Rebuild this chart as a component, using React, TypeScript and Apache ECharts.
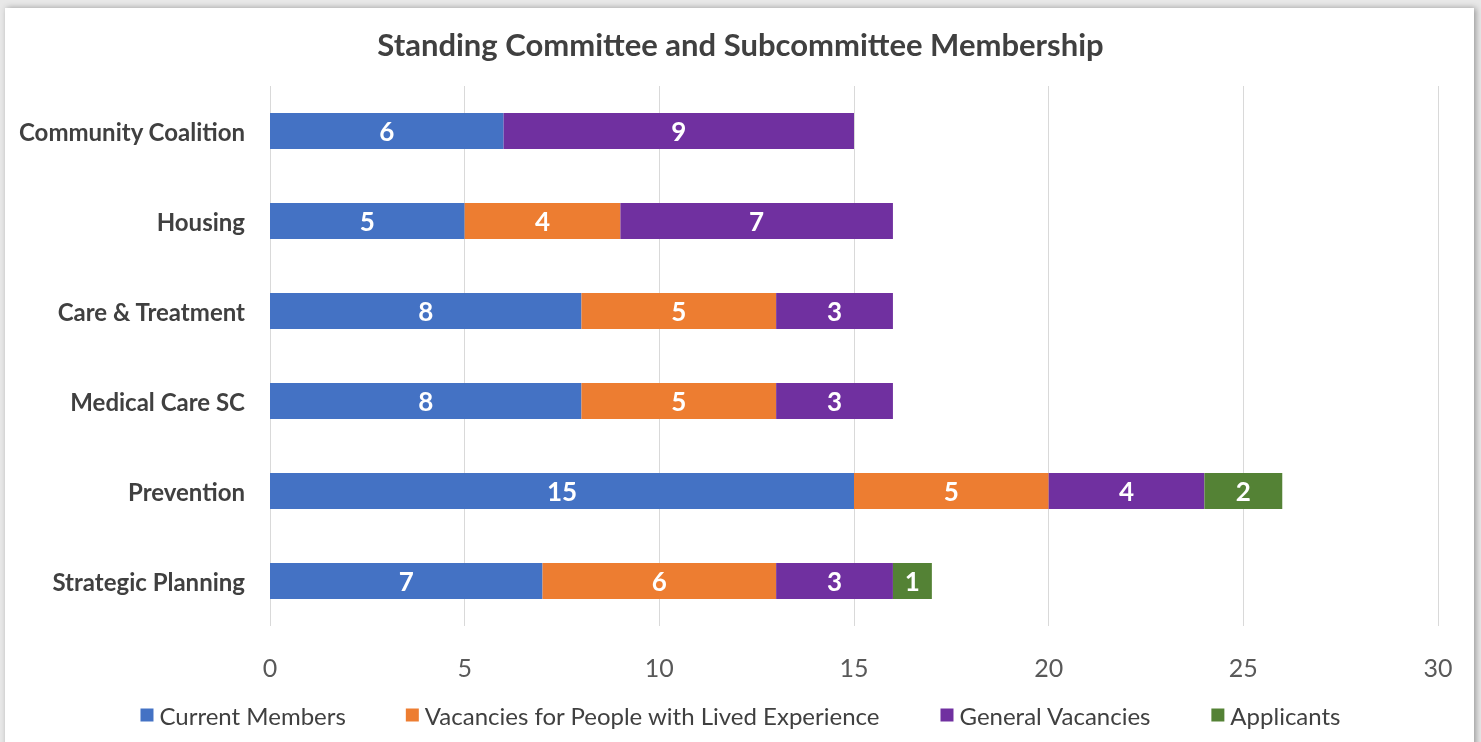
import React, { useEffect, useRef } from "react";
import * as echarts from "echarts";

const categories = [
  "Community Coalition",
  "Housing",
  "Care & Treatment",
  "Medical Care SC",
  "Prevention",
  "Strategic Planning",
];
const currentMembers = [6, 5, 8, 8, 15, 7];
const livedExperience = [null, 4, 5, 5, 5, 6];
const generalVacancies = [9, 7, 3, 3, 4, 3];
const applicants = [null, null, null, null, 2, 1];
const xTicks = { min: 0, max: 30, interval: 5 };

const seriesDefs = [
  { name: "Current Members", data: currentMembers, color: "#4472C4" },
  { name: "Vacancies for People with Lived Experience", data: livedExperience, color: "#ED7D31" },
  { name: "General Vacancies", data: generalVacancies, color: "#7030A0" },
  { name: "Applicants", data: applicants, color: "#548235" },
];

const FONT = "Lato, 'Open Sans', sans-serif";

export default function App() {
  const ref = useRef<HTMLDivElement>(null);
  useEffect(() => {
    if (!ref.current) return;
    const chart = echarts.init(ref.current, null, { renderer: "svg" });
    chart.setOption({
      animation: false,
      textStyle: { fontFamily: FONT },
      graphic: [
        { type: "rect", z: -10, shape: { x: 0, y: 0, width: 1481, height: 742 }, style: { fill: "#e8e8e8" } },
        {
          type: "rect",
          z: -9,
          shape: { x: 5, y: 8, width: 1469, height: 740 },
          style: { fill: "#ffffff", shadowBlur: 6, shadowColor: "rgba(0,0,0,0.35)", shadowOffsetX: 2, shadowOffsetY: 0 },
        },
      ],
      title: {
        text: "Standing Committee and Subcommittee Membership",
        left: "center",
        top: 23,
        textStyle: { fontFamily: FONT, fontSize: 31, fontWeight: "bold", color: "#404040" },
      },
      legend: {
        bottom: 10,
        left: "center",
        itemWidth: 13,
        itemHeight: 13,
        itemGap: 60,
        icon: "rect",
        textStyle: { fontFamily: FONT, fontSize: 24, color: "#404040", padding: [0, 0, 0, 1] },
        data: seriesDefs.map((s) => s.name),
      },
      grid: { left: 270, right: 43, top: 86, bottom: 116, containLabel: false },
      xAxis: {
        type: "value",
        min: xTicks.min,
        max: xTicks.max,
        interval: xTicks.interval,
        axisLine: { show: false },
        axisTick: { show: false },
        axisLabel: { fontFamily: FONT, fontSize: 25, color: "#595959", margin: 28 },
        splitLine: { show: true, lineStyle: { color: "#d9d9d9", width: 1 } },
      },
      yAxis: {
        type: "category",
        data: categories,
        inverse: true,
        axisLine: { show: false },
        axisTick: { show: false },
        axisLabel: { fontFamily: FONT, fontSize: 24, fontWeight: "bold", color: "#404040", margin: 25 },
      },
      series: seriesDefs.map((s) => ({
        name: s.name,
        type: "bar",
        stack: "total",
        barWidth: "40%",
        data: s.data,
        itemStyle: { color: s.color },
        label: {
          show: true,
          position: "inside",
          color: "#ffffff",
          fontFamily: FONT,
          fontSize: 26,
          fontWeight: "bold",
        },
      })),
    });
    return () => chart.dispose();
  }, []);
  return (
    <div
      ref={ref}
      style={{ position: "fixed", left: 0, top: 0, width: 1481, height: 742 }}
    />
  );
}
